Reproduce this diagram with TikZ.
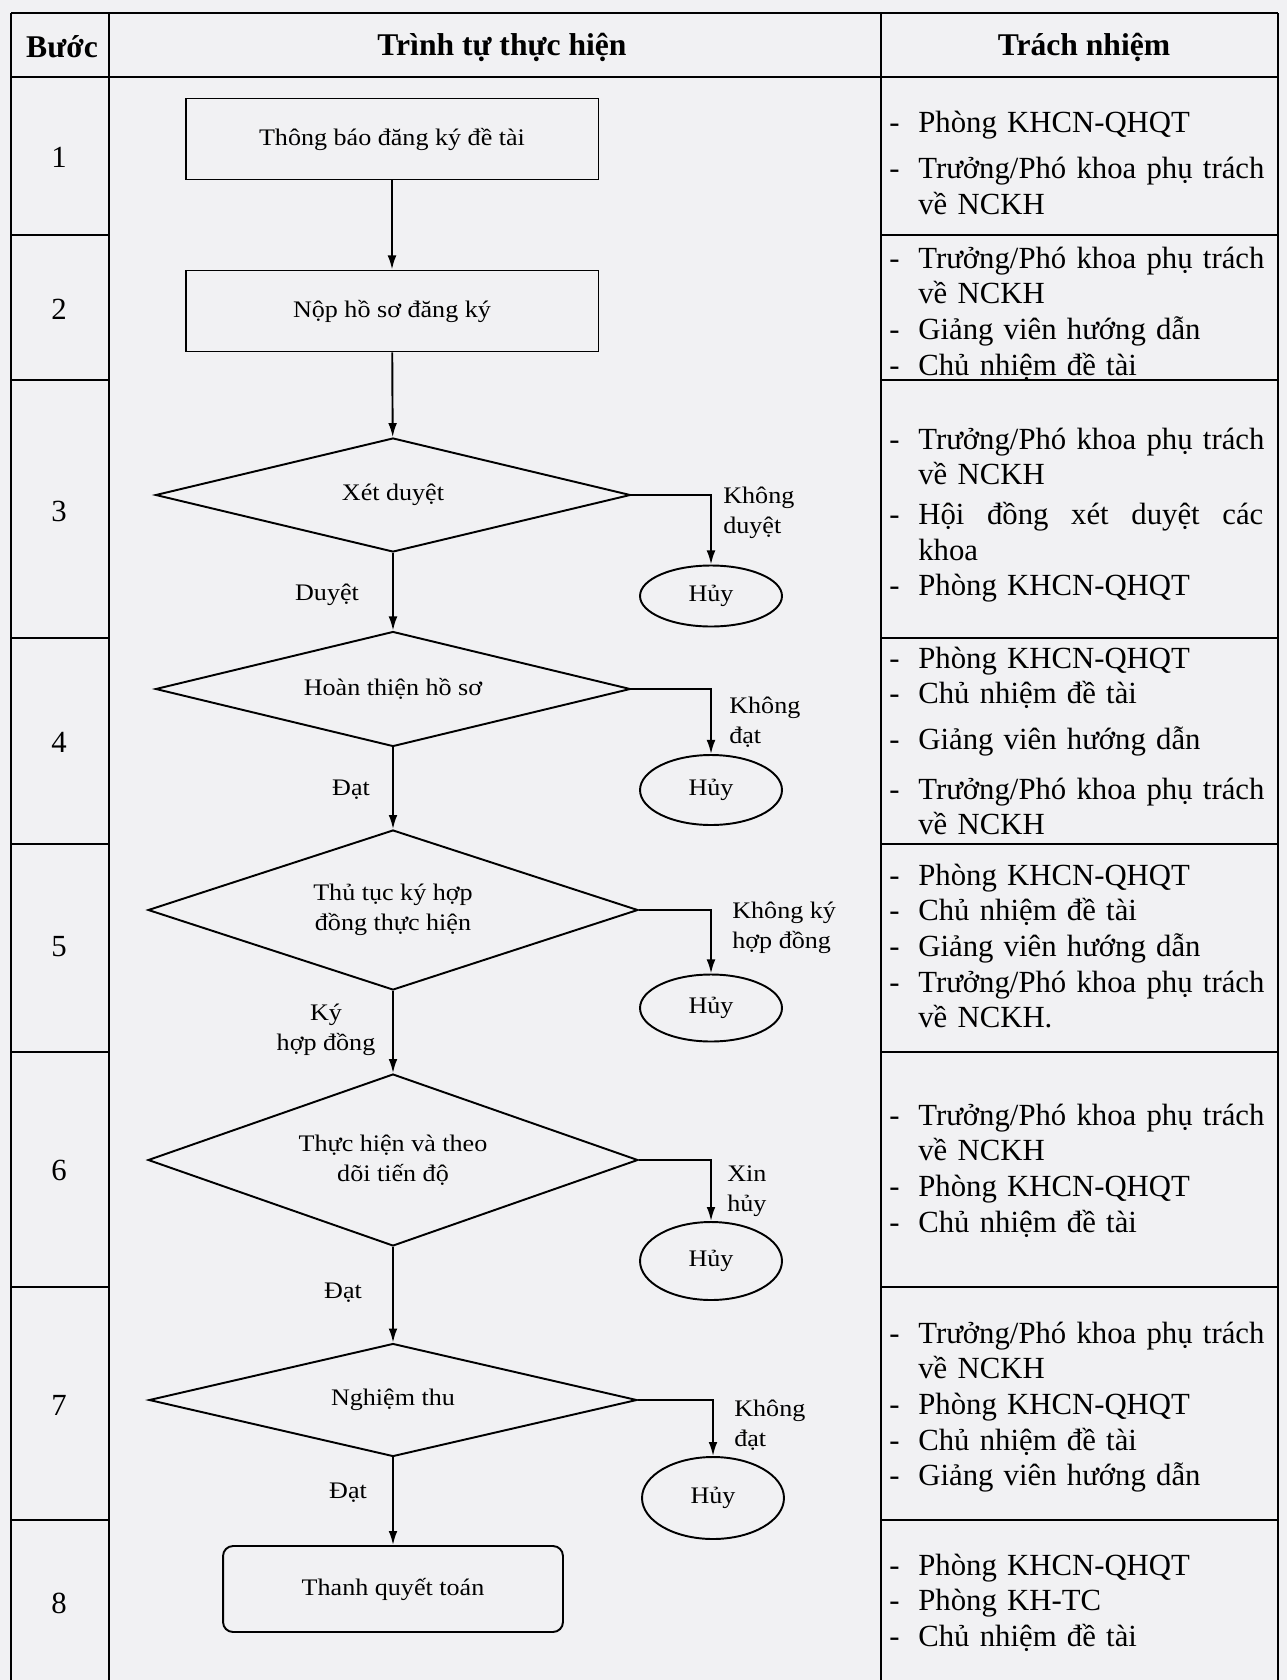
\documentclass[tikz,border=0pt]{standalone}
\usepackage{fontspec}
\setmainfont{Liberation Serif}
\newfontfamily\flowfont[FakeStretch=1.1]{Liberation Serif}
\usetikzlibrary{shapes.geometric,arrows.meta}
\definecolor{scanbg}{RGB}{241,241,243}
\newcommand{\itm}[1]{\makebox[0.58cm][l]{-}#1}
\newcommand{\cnt}[1]{\hspace*{0.58cm}#1}

\begin{document}
\begin{tikzpicture}[x=0.02cm,y=-0.02cm,
    grid/.style={line width=0.9pt},
    head/.style={inner sep=0pt,font=\bfseries\fontsize{18}{21}\selectfont},
    stepno/.style={inner sep=0pt,font=\fontsize{17.5}{20}\selectfont},
    resp/.style={anchor=base west,inner sep=0pt,text width=8cm,align=left,
        font=\fontsize{17.5}{20.3}\selectfont},
    box/.style={draw,line width=1.1pt,inner sep=0pt,minimum width=8.26cm,
        minimum height=1.62cm,font=\flowfont\fontsize{13.5}{17}\selectfont},
    decision/.style={diamond,aspect=4,draw,line width=1.1pt,inner sep=0pt,
        align=center,font=\flowfont\fontsize{13.5}{17}\selectfont},
    cancel/.style={ellipse,draw,line width=1.1pt,inner sep=0pt,minimum width=2.84cm,
        font=\flowfont\fontsize{13.5}{17}\selectfont},
    lbl/.style={inner sep=0pt,font=\flowfont\fontsize{13.5}{17}\selectfont},
    arr/.style={line width=1.1pt,-{Latex[length=8pt,width=5pt]}}]
  \useasboundingbox[fill=scanbg] (0,0) rectangle (1287,1680);
  % table
  \draw[grid] (11,13) -- (1278,13);
  \draw[grid] (11,77) -- (1278,77);
  \foreach \x in {11,109,881,1278}
    \draw[grid] (\x,13) -- (\x,1680);
  \foreach \y in {235,380,638,844,1052,1287,1520} {
    \draw[grid] (11,\y) -- (109,\y);
    \draw[grid] (881,\y) -- (1278,\y);
  }
  \node[head] (hstep) at (62,47) {Bước};
  \node[head] (hflow) at (502,47) {Trình tự thực hiện};
  \node[head] (hresp) at (1084,47) {Trách nhiệm};
  % step numbers
  \node[stepno] (s1) at (59,157) {1};
  \node[stepno] (s2) at (59,309) {2};
  \node[stepno] (s3) at (59,511) {3};
  \node[stepno] (s4) at (59,742) {4};
  \node[stepno] (s5) at (59,947) {5};
  \node[stepno] (s6) at (59,1170) {6};
  \node[stepno] (s7) at (59,1405) {7};
  \node[stepno] (s8) at (59,1603) {8};
  % flow chart
  \node[box] (b1) at (392,139) {Thông báo đăng ký đề tài};
  \node[box] (b2) at (392,311) {Nộp hồ sơ đăng ký};
  \node[decision,minimum width=9.5cm,minimum height=2.28cm] (d3) at (393,495) {Xét duyệt};
  \node[decision,minimum width=9.5cm,minimum height=2.3cm] (d4) at (393,689) {Hoàn thiện hồ sơ};
  \node[decision,minimum width=9.8cm,minimum height=3.2cm] (d5) at (393,910) {Thủ tục ký hợp\\đồng thực hiện};
  \node[decision,minimum width=9.8cm,minimum height=3.44cm] (d6) at (393,1160) {Thực hiện và theo\\dõi tiến độ};
  \node[decision,minimum width=9.76cm,minimum height=2.26cm] (d7) at (393,1400) {Nghiệm thu};
  \node[box,rounded corners=0.2cm,minimum width=6.8cm,minimum height=1.72cm] (b8) at (393,1589) {Thanh quyết toán};
  \node[cancel,minimum height=1.22cm] (h3) at (711,596) {Hủy};
  \node[cancel,minimum height=1.4cm] (h4) at (711,790) {Hủy};
  \node[cancel,minimum height=1.34cm] (h5) at (711,1008) {Hủy};
  \node[cancel,minimum height=1.56cm] (h6) at (711,1261) {Hủy};
  \node[cancel,minimum height=1.64cm] (h7) at (713,1498) {Hủy};
  \draw[arr] (b1) -- (b2);
  \draw[arr] (b2) -- (d3);
  \draw[arr] (d3) -- (d4);
  \draw[arr] (d4) -- (d5);
  \draw[arr] (d5) -- (d6);
  \draw[arr] (d6) -- (d7);
  \draw[arr] (d7) -- (b8);
  \draw[arr] (d3.east) -| (h3.north);
  \draw[arr] (d4.east) -| (h4.north);
  \draw[arr] (d5.east) -| (h5.north);
  \draw[arr] (d6.east) -| (h6.north);
  \draw[arr] (d7.east) -| (h7.north);
  \node[lbl,anchor=west,align=left] (n3) at (723,513) {Không\\duyệt};
  \node[lbl,anchor=west,align=left] (n4) at (729,722) {Không\\đạt};
  \node[lbl,anchor=west,align=left] (n5) at (732,928) {Không ký\\hợp đồng};
  \node[lbl,anchor=west,align=left] (n6) at (727,1191) {Xin\\hủy};
  \node[lbl,anchor=west,align=left] (n7) at (734,1425) {Không\\đạt};
  \node[lbl] (y3) at (327,595) {Duyệt};
  \node[lbl] (y4) at (351,790) {Đạt};
  \node[lbl,align=center] (y5) at (326,1030) {Ký\\hợp đồng};
  \node[lbl] (y6) at (343,1293) {Đạt};
  \node[lbl] (y7) at (348,1493) {Đạt};
  % responsibilities
  \node[resp] (r1) at (889,132) {\itm{Phòng KHCN-QHQT}\\[6.3pt]
    \itm{Trưởng/Phó khoa phụ trách}\\ \cnt{về NCKH}};
  \node[resp] (r2) at (889,268) {\itm{Trưởng/Phó khoa phụ trách}\\ \cnt{về NCKH}\\
    \itm{Giảng viên hướng dẫn}\\ \itm{Chủ nhiệm đề tài}};
  \node[resp] (r3) at (889,449) {\itm{Trưởng/Phó khoa phụ trách}\\ \cnt{về NCKH}\\[2.3pt]
    \itm{\makebox[6.9cm][s]{Hội\hfill đồng\hfill xét\hfill duyệt\hfill các}}\\ \cnt{khoa}\\
    \itm{Phòng KHCN-QHQT}};
  \node[resp] (r4) at (889,668) {\itm{Phòng KHCN-QHQT}\\ \itm{Chủ nhiệm đề tài}\\[5.7pt]
    \itm{Giảng viên hướng dẫn}\\[8pt] \itm{Trưởng/Phó khoa phụ trách}\\ \cnt{về NCKH}};
  \node[resp] (r5) at (889,885) {\itm{Phòng KHCN-QHQT}\\ \itm{Chủ nhiệm đề tài}\\
    \itm{Giảng viên hướng dẫn}\\ \itm{Trưởng/Phó khoa phụ trách}\\ \cnt{về NCKH.}};
  \node[resp] (r6) at (889,1125) {\itm{Trưởng/Phó khoa phụ trách}\\ \cnt{về NCKH}\\
    \itm{Phòng KHCN-QHQT}\\ \itm{Chủ nhiệm đề tài}};
  \node[resp] (r7) at (889,1343) {\itm{Trưởng/Phó khoa phụ trách}\\ \cnt{về NCKH}\\
    \itm{Phòng KHCN-QHQT}\\ \itm{Chủ nhiệm đề tài}\\ \itm{Giảng viên hướng dẫn}};
  \node[resp] (r8) at (889,1575) {\itm{Phòng KHCN-QHQT}\\ \itm{Phòng KH-TC}\\
    \itm{Chủ nhiệm đề tài}};
\end{tikzpicture}
\end{document}
